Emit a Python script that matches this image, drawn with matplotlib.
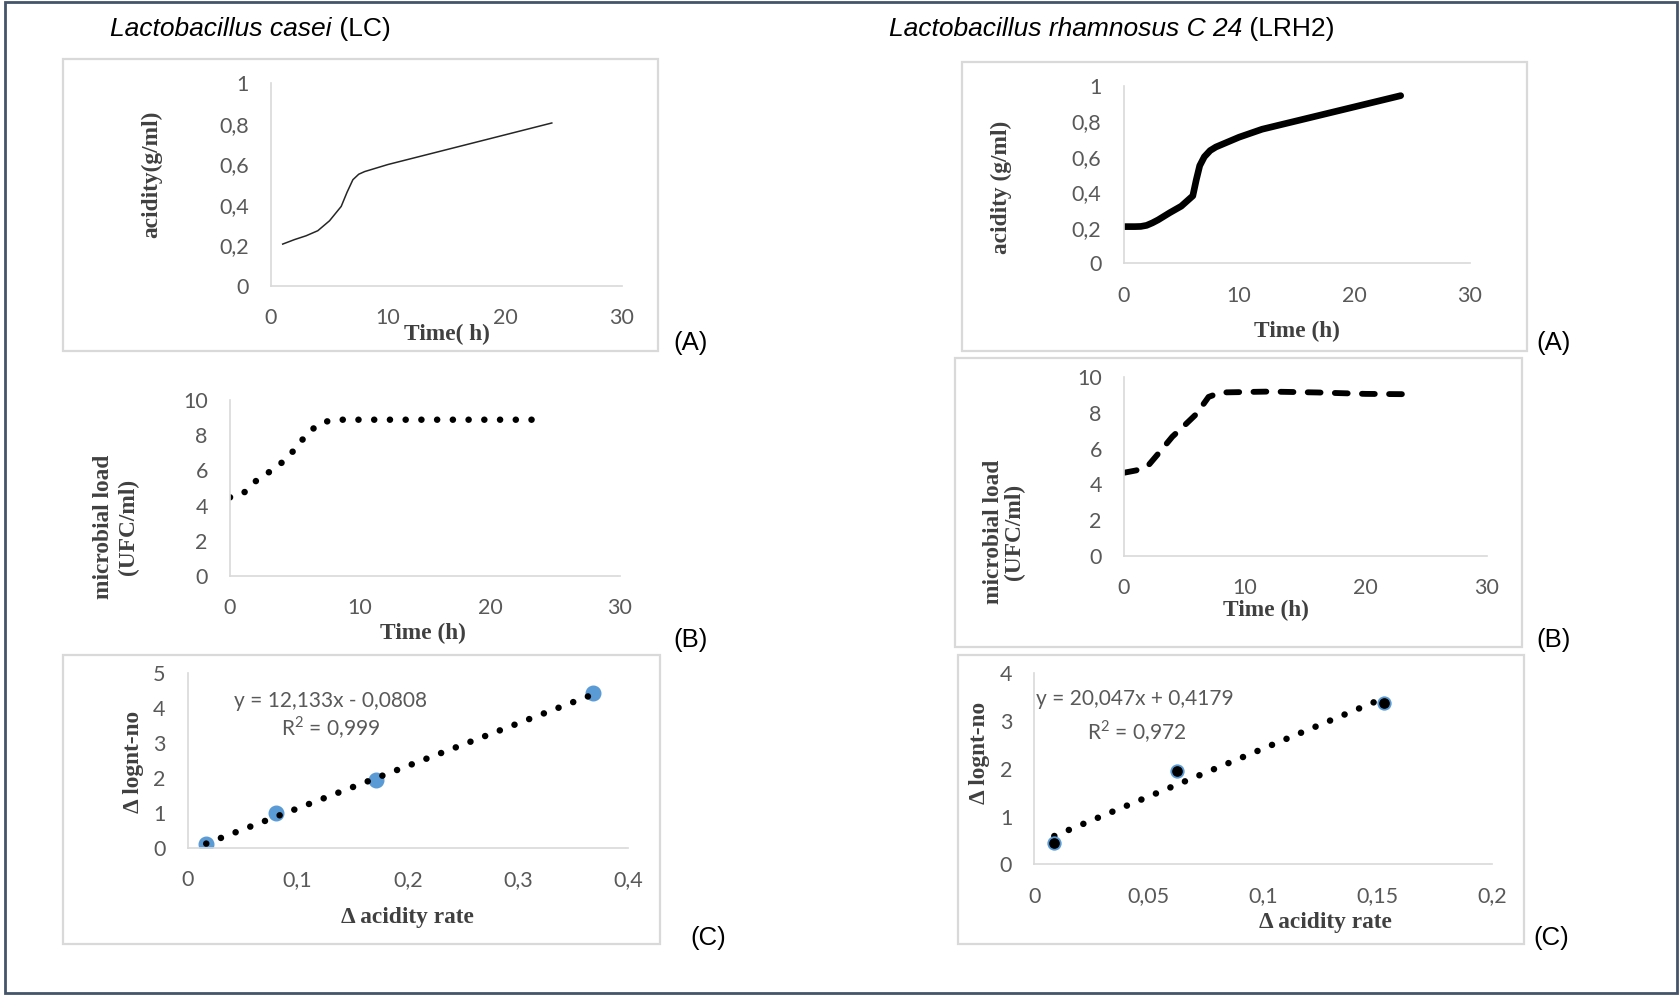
import matplotlib
matplotlib.use("Agg")
import matplotlib.pyplot as plt
from matplotlib.patches import Rectangle
from matplotlib.ticker import FuncFormatter

# ---- data ----
# Lactobacillus casei (LC)
lc_time_a = [1, 2, 3, 4, 5, 6, 6.5, 7, 7.5, 8, 10, 24]
lc_acid = [0.207, 0.229, 0.248, 0.273, 0.322, 0.393, 0.463, 0.525, 0.552, 0.565, 0.60, 0.805]
lc_time_b = [0, 1, 2, 3, 4, 5, 6, 7, 8, 24]
lc_load = [4.47, 4.68, 5.4, 5.9, 6.45, 7.2, 8.15, 8.7, 8.88, 8.88]
lc_dacid = [0.017, 0.080, 0.1716, 0.3685]
lc_dlog = [0.115, 1.01, 1.95, 4.43]
lc_slope, lc_icpt = 12.133, -0.0808
lc_eq = "y = 12,133x - 0,0808"
lc_r2 = "R$^2$ = 0,999"

# Lactobacillus rhamnosus C 24 (LRH2)
lrh_time_a = [0, 1, 1.5, 2, 2.5, 3, 4, 5, 6, 6.3, 6.6, 7, 7.5, 8, 10, 12, 24]
lrh_acid = [0.207, 0.207, 0.208, 0.214, 0.228, 0.245, 0.285, 0.322, 0.38, 0.47,
            0.55, 0.60, 0.635, 0.655, 0.71, 0.755, 0.944]
lrh_time_b = [0, 1, 2, 3, 4, 5, 6, 7, 8, 12, 16, 20, 24]
lrh_load = [4.65, 4.78, 5.05, 5.85, 6.67, 7.3, 7.95, 8.9, 9.15, 9.2, 9.15, 9.07, 9.05]
lrh_dacid = [0.0087, 0.0625, 0.1527]
lrh_dlog = [0.44, 1.96, 3.37]
lrh_slope, lrh_icpt = 20.047, 0.4179
lrh_eq = "y = 20,047x + 0,4179"
lrh_r2 = "R$^2$ = 0,972"

time_ticks = [0, 10, 20, 30]
acid_ticks = [0, 0.2, 0.4, 0.6, 0.8, 1]
load_ticks = [0, 2, 4, 6, 8, 10]

W, H = 1679, 997
plt.rcParams['font.family'] = ['Lato', 'DejaVu Sans']
plt.rcParams['mathtext.fontset'] = 'custom'
plt.rcParams['mathtext.rm'] = 'Lato'

fig = plt.figure(figsize=(W / 100, H / 100), dpi=100)

TICK = '#595959'
LABEL = '#404040'
GRID = '#d9d9d9'


def px_axes(l, t, r, b):
    return fig.add_axes([l / W, 1 - b / H, (r - l) / W, (b - t) / H])


def ptext(x, y, s, **kw):
    return fig.text(x / W, 1 - y / H, s, **kw)


def comma(v, pos):
    return f"{v:g}".replace(".", ",")


def style(ax, xlim, xticks, ylim, yticks):
    ax.set_xlim(xlim)
    ax.set_ylim(ylim)
    ax.set_xticks(xticks)
    ax.set_yticks(yticks)
    ax.xaxis.set_major_formatter(FuncFormatter(comma))
    ax.yaxis.set_major_formatter(FuncFormatter(comma))
    for s in ['top', 'right']:
        ax.spines[s].set_visible(False)
    for s in ['left', 'bottom']:
        ax.spines[s].set_color(GRID)
        ax.spines[s].set_linewidth(1.2)
    ax.tick_params(length=0, labelsize=15.5, labelcolor=TICK, pad=16)
    ax.patch.set_alpha(0)


def panel_box(l, t, r, b):
    fig.patches.append(Rectangle((l / W, 1 - b / H), (r - l) / W, (b - t) / H,
                                 transform=fig.transFigure, fill=False,
                                 edgecolor=GRID, linewidth=1.6))


def axis_label(x, y, s, rot=0, **kw):
    ptext(x, y, s, rotation=rot, ha='center', va='center', family='Liberation Serif',
          weight='bold', size=16.8, color=LABEL, **kw)


def title(x, y, ital, rest):
    t = ptext(x, y, ital, style='italic', family='Liberation Sans', size=19,
              ha='left', va='center')
    fig.canvas.draw()
    bb = t.get_window_extent()
    fig.text(bb.x1 / W, 1 - y / H, rest, family='Liberation Sans', size=19,
             ha='left', va='center')


dot = dict(color='black', linewidth=4.7, linestyle=(0, (0.01, 2.4)),
           dash_capstyle='round', solid_capstyle='round')

# outer frame
fig.patches.append(Rectangle((5 / W, 1 - 993 / H), 1672 / W, 991 / H,
                             transform=fig.transFigure, fill=False,
                             edgecolor='#44546a', linewidth=2))

# panel frames
panel_box(63, 59, 658, 351)
panel_box(962, 62, 1527, 351)
panel_box(955, 358, 1522, 647)
panel_box(63, 655, 660, 944)
panel_box(958, 655, 1524, 944)

title(110, 29, "Lactobacillus casei", " (LC)")
title(889, 29, "Lactobacillus rhamnosus C 24", " (LRH2)")

# ---- LC (A) acidity ----
ax = px_axes(271, 83.5, 622, 286)
ax.plot(lc_time_a, lc_acid, color='#262626', linewidth=1.1)
style(ax, (0, 30), time_ticks, (0, 1), acid_ticks)
axis_label(152, 174, "acidity(g/ml)", rot=90)
axis_label(447, 334, "Time( h)")

# ---- LC (B) microbial load ----
ax = px_axes(230, 400, 620, 576)
ax.plot(lc_time_b, lc_load, **dot)
style(ax, (0, 30), time_ticks, (0, 10), load_ticks)
axis_label(116, 527, "microbial load\n(UFC/ml)", rot=90, linespacing=1.2)
axis_label(423, 633, "Time (h)")

# ---- LC (C) regression ----
ax = px_axes(187.5, 673, 628, 848)
x0, x1 = min(lc_dacid), max(lc_dacid)
ax.plot([x0, x1], [lc_slope * x0 + lc_icpt, lc_slope * x1 + lc_icpt], **dot)
ax.plot(lc_dacid, lc_dlog, linestyle='none', marker='o', markersize=10.5,
        color='#5b9bd5', zorder=1)
style(ax, (0, 0.4), [0, 0.1, 0.2, 0.3, 0.4], (0, 5), [0, 1, 2, 3, 4, 5])
ptext(331, 701, lc_eq, ha='center', va='center', size=15, color=TICK)
ptext(331, 728, lc_r2, ha='center', va='center', size=15, color=TICK)
axis_label(134, 762, "Δ lognt-no", rot=90)
axis_label(407, 917, "Δ acidity rate")

# ---- LRH2 (A) acidity ----
ax = px_axes(1123.5, 85.7, 1470, 263.4)
ax.plot(lrh_time_a, lrh_acid, color='black', linewidth=4.8, solid_capstyle='round',
        solid_joinstyle='round')
style(ax, (0, 30), time_ticks, (0, 1), acid_ticks)
axis_label(1001, 187, "acidity (g/ml)", rot=90)
axis_label(1297, 331, "Time (h)")

# ---- LRH2 (B) microbial load ----
ax = px_axes(1124, 377.3, 1486.5, 555.7)
ax.plot(lrh_time_b, lrh_load, color='black', linewidth=4.2,
        linestyle=(0, (2.2, 2.45)), dash_capstyle='round')
style(ax, (0, 30), time_ticks, (0, 10), load_ticks)
axis_label(1004, 532, "microbial load\n(UFC/ml)", rot=90, linespacing=1.0)
axis_label(1266, 610, "Time (h)")

# ---- LRH2 (C) regression ----
ax = px_axes(1034.4, 673.3, 1491.8, 864.3)
x0, x1 = min(lrh_dacid), max(lrh_dacid)
ax.plot([x0, x1], [lrh_slope * x0 + lrh_icpt, lrh_slope * x1 + lrh_icpt], **dot)
ax.plot(lrh_dacid, lrh_dlog, linestyle='none', marker='o', markersize=9,
        markerfacecolor='black', markeredgecolor='#5b9bd5', markeredgewidth=1.3)
style(ax, (0, 0.2), [0, 0.05, 0.1, 0.15, 0.2], (0, 4), [0, 1, 2, 3, 4])
ptext(1135, 699, lrh_eq, ha='center', va='center', size=15, color=TICK)
ptext(1137, 732, lrh_r2, ha='center', va='center', size=15, color=TICK)
axis_label(980, 753, "Δ lognt-no", rot=90)
axis_label(1325, 922, "Δ acidity rate")

# panel letters
for x, y, s in [(691, 343, "(A)"), (1554, 343, "(A)"), (691, 640, "(B)"),
                (1554, 640, "(B)"), (708, 938, "(C)"), (1551, 938, "(C)")]:
    ptext(x, y, s, ha='center', va='center', family='Liberation Sans', size=18.5)

fig.savefig("out.png", dpi=100)
